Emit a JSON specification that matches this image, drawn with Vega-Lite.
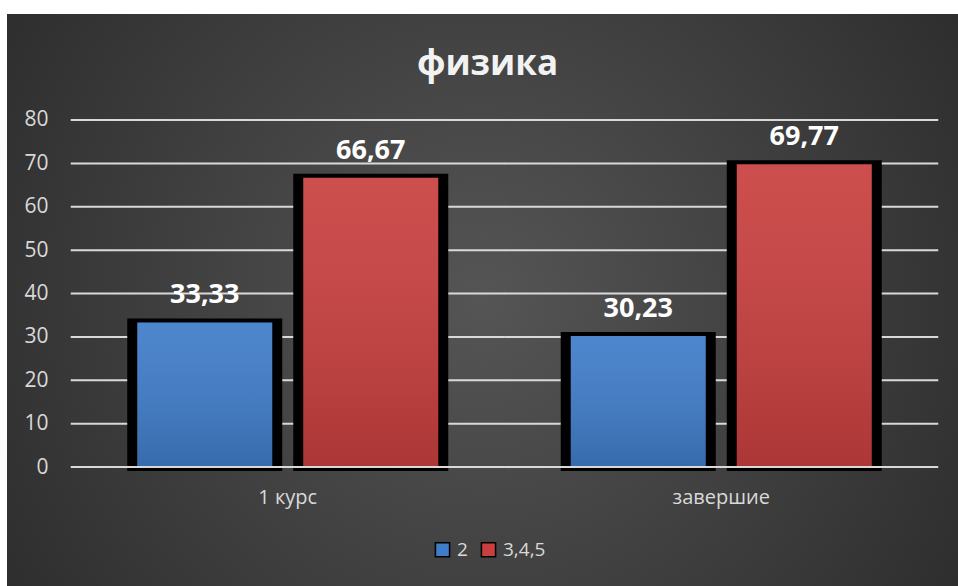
{
  "$schema": "https://vega.github.io/schema/vega-lite/v6.json",
  "width": 951,
  "height": 572,
  "autosize": {"type": "none"},
  "padding": {"left": 7, "top": 14, "right": 0, "bottom": 0},
  "background": "white",
  "config": {
    "view": {
      "fill": {"gradient": "radial", "x1": 0.5, "y1": 0.5, "r1": 0, "x2": 0.5, "y2": 0.5, "r2": 0.72,
        "stops": [{"offset": 0, "color": "#555555"}, {"offset": 1, "color": "#252525"}]},
      "stroke": null
    },
    "font": "Open Sans",
    "locale": {"number": {"decimal": ",", "thousands": " ", "grouping": [3], "currency": ["", " ₽"]}}
  },
  "title": {
    "text": "физика", "fontSize": 35, "fontWeight": "bold", "color": "#f2f2f2", "font": "Open Sans",
    "anchor": "middle", "frame": "group", "baseline": "alphabetic", "offset": -96, "dx": 5
  },
  "data": {"values": [
    {"group": "1 курс", "series": "2", "value": 33.33},
    {"group": "1 курс", "series": "3,4,5", "value": 66.67},
    {"group": "завершие", "series": "2", "value": 30.23},
    {"group": "завершие", "series": "3,4,5", "value": 69.77}
  ]},
  "encoding": {
    "x": {
      "field": "group", "type": "nominal", "sort": null,
      "scale": {"paddingInner": 0, "paddingOuter": 0.09689, "align": 0.7619},
      "axis": {"orient": "bottom", "offset": -119, "labelPadding": 20, "ticks": false, "domain": false,
        "labelAngle": 0, "title": null, "labelColor": "#d9d9d9", "labelFontSize": 20, "labelFont": "Open Sans", "grid": false}
    },
    "y": {
      "field": "value", "type": "quantitative",
      "scale": {"domain": [-27.435, 104.438], "nice": false, "zero": false},
      "axis": {"values": [0, 10, 20, 30, 40, 50, 60, 70, 80], "offset": -64, "labelPadding": 23, "ticks": false,
        "domain": false, "grid": false, "title": null, "labelColor": "#d9d9d9", "labelFontSize": 21, "labelFont": "Open Sans"}
    }
  },
  "layer": [
    {
      "data": {"values": [
        {"group": "1 курс", "value": 10}, {"group": "завершие", "value": 10},
        {"group": "1 курс", "value": 20}, {"group": "завершие", "value": 20},
        {"group": "1 курс", "value": 30}, {"group": "завершие", "value": 30},
        {"group": "1 курс", "value": 40}, {"group": "завершие", "value": 40},
        {"group": "1 курс", "value": 50}, {"group": "завершие", "value": 50},
        {"group": "1 курс", "value": 60}, {"group": "завершие", "value": 60},
        {"group": "1 курс", "value": 70}, {"group": "завершие", "value": 70},
        {"group": "1 курс", "value": 80}, {"group": "завершие", "value": 80}
      ]},
      "mark": {"type": "tick", "orient": "horizontal", "color": "#d9d9d9", "size": 434, "thickness": 2, "opacity": 1}
    },
    {
      "mark": {"type": "bar", "fill": "black", "stroke": "black", "strokeWidth": 8, "size": 147},
      "encoding": {
        "xOffset": {"field": "series", "type": "nominal", "scale": {"paddingInner": 0, "paddingOuter": 0.3057}},
        "y2": {"datum": 0}
      }
    },
    {
      "mark": {"type": "bar", "size": 135},
      "encoding": {
        "xOffset": {"field": "series", "type": "nominal"},
        "y2": {"datum": 0},
        "color": {
          "field": "series", "type": "nominal",
          "scale": {"range": ["#3f7cc9", "#c83f3e"]},
          "legend": {"orient": "none", "legendX": 426, "legendY": 526, "direction": "horizontal", "title": null,
            "symbolType": "square", "symbolSize": 200,
            "labelColor": "#d9d9d9", "labelFontSize": 19, "labelFont": "Open Sans", "columnPadding": 10, "labelOffset": 5,
            "encode": {"symbols": {"update": {"stroke": {"value": "black"}, "strokeWidth": {"value": 1.5}}}}}
        }
      }
    },
    {
      "mark": {"type": "bar", "size": 135,
        "fill": {"gradient": "linear", "x1": 0, "y1": 0, "x2": 0, "y2": 1,
          "stops": [{"offset": 0, "color": "rgba(255,255,255,0.08)"}, {"offset": 1, "color": "rgba(0,0,0,0.14)"}]}},
      "encoding": {
        "xOffset": {"field": "series", "type": "nominal"},
        "y2": {"datum": 0}
      }
    },
    {
      "data": {"values": [{"group": "1 курс", "value": 0}, {"group": "завершие", "value": 0}]},
      "mark": {"type": "tick", "orient": "horizontal", "color": "#d9d9d9", "size": 434, "thickness": 2, "opacity": 1}
    },
    {
      "mark": {"type": "text", "dy": -19, "baseline": "alphabetic", "fontSize": 27, "fontWeight": "bold", "color": "white", "font": "Open Sans"},
      "encoding": {
        "xOffset": {"field": "series", "type": "nominal"},
        "text": {"field": "value", "type": "quantitative", "format": ".2f"}
      }
    }
  ]
}
